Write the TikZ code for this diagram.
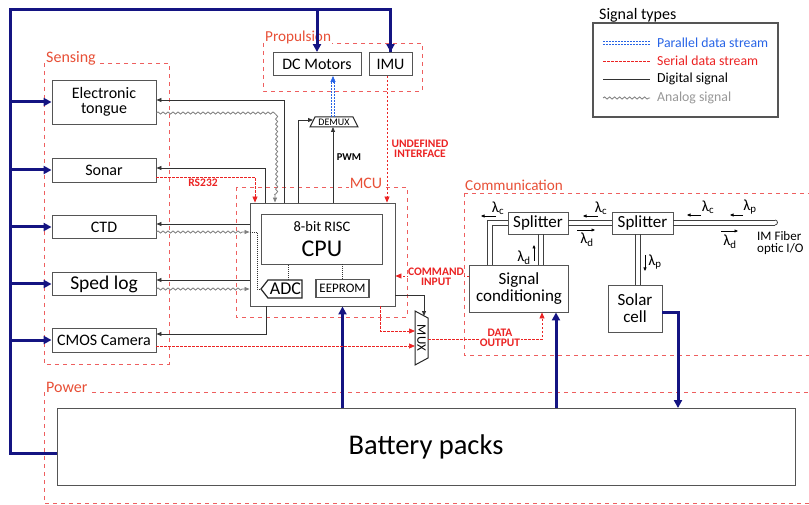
\documentclass[tikz,border=0pt]{standalone}
\usepackage{fontspec}
\setmainfont{Carlito}
\usetikzlibrary{arrows.meta,decorations.pathmorphing,calc}
\definecolor{navy}{RGB}{20,20,130}
\definecolor{serred}{RGB}{235,35,35}
\definecolor{reglab}{RGB}{232,80,55}
\definecolor{regline}{RGB}{238,95,95}
\definecolor{parblue}{RGB}{40,100,230}
\definecolor{digc}{RGB}{50,50,50}
\definecolor{anac}{RGB}{125,125,125}
\definecolor{boxc}{RGB}{85,85,85}
\begin{document}
\begin{tikzpicture}[x=1pt,y=-1pt,
 box/.style={draw=boxc, line width=0.9pt, fill=white, inner sep=1pt, align=center, font=\fontsize{16}{16}\selectfont},
 region/.style={draw=regline, line width=0.7pt, dash pattern=on 4pt off 4pt},
 reglabel/.style={text=reglab, fill=white, inner sep=1pt, font=\fontsize{16}{16}\selectfont},
 pwr/.style={draw=navy, line width=3pt, -{Triangle[length=8pt,width=8pt]}},
 pwrline/.style={draw=navy, line width=3pt},
 digl/.style={draw=digc, line width=0.8pt, -{Triangle[length=5pt,width=4pt]}},
 ser/.style={draw=serred, line width=0.7pt, dash pattern=on 2.5pt off 1.5pt, -{Triangle[length=6pt,width=5pt]}},
 anal/.style={draw=anac, line width=0.8pt, decorate, decoration={snake, amplitude=1.1pt, segment length=5pt, post length=6pt}, -{Triangle[length=5pt,width=4pt]}},
 dots/.style={draw=digc, line width=0.8pt, dash pattern=on 1pt off 1pt},
 parl/.style={draw=parblue, line width=0.7pt, dash pattern=on 2pt off 1pt},
 fib/.style={draw=black!75, line width=0.8pt},
 laml/.style={draw=black, line width=0.6pt, -{Triangle[length=3.5pt,width=3pt]}},
 lamt/.style={inner sep=0pt, font=\fontsize{15.5}{15}\selectfont},
 redlab/.style={text=serred, inner sep=0.5pt, align=center, font=\bfseries\fontsize{11.5}{10}\selectfont},
]
\useasboundingbox (0,0) rectangle (809,505);

% ---------------- regions
\draw[region] (44,63) rectangle (169,364);
\draw[region] (263,43) rectangle (422,91);
\draw[region] (236,187) rectangle (407,317);
\draw[region] (464,193) -- (815,193) (464,193) -- (464,355) -- (815,355);
\draw[region] (44,392) -- (815,392) (44,392) -- (44,503) -- (815,503);
\node[reglabel, anchor=base west] (lsens) at (45,63) {Sensing};
\node[reglabel, anchor=base west, font=\fontsize{15.2}{16}\selectfont] (lprop) at (264,42) {Propulsion};
\node[reglabel, anchor=base] (lmcu) at (366,189) {MCU};
\node[reglabel, anchor=base west, font=\fontsize{15.2}{16}\selectfont] (lcomm) at (464,191) {Communication};
\node[reglabel, anchor=base west] (lpow) at (45,392) {Power};

% ---------------- nodes
\node[box, minimum width=104pt, minimum height=44pt] (et) at (104,102) {Electronic\\[-1pt]tongue};
\node[box, minimum width=104pt, minimum height=24pt] (sonar) at (104,170) {Sonar};
\node[box, minimum width=104pt, minimum height=23pt] (ctd) at (104,227) {CTD};
\node[box, minimum width=104pt, minimum height=23pt, font=\fontsize{19.5}{19}\selectfont] (sped) at (104,284) {Sped log};
\node[box, minimum width=104pt, minimum height=24pt] (cmos) at (104,340) {CMOS Camera};
\node[box, minimum width=88pt, minimum height=23pt] (dcm) at (317,64) {DC Motors};
\node[box, minimum width=43pt, minimum height=23pt] (imu) at (390.5,64) {IMU};

\node[box, minimum width=145pt, minimum height=103pt] (cpuo) at (322.5,254.5) {};
\node[box, minimum width=121pt, minimum height=50pt] (cpui) at (321.5,239) {};
\node[inner sep=0pt, font=\fontsize{14.5}{14}\selectfont] (risc) at (322,227) {8-bit RISC};
\node[inner sep=0pt, font=\fontsize{24}{24}\selectfont] (cpu) at (322,249) {CPU};
\draw[line width=1.2pt, draw=black!85, fill=white] (261,289) -- (268,280) -- (302,280) -- (302,298) -- (268,298) -- cycle;
\node[inner sep=0pt, font=\fontsize{18}{18}\selectfont] (adc) at (285.5,289) {ADC};
\node[box, line width=1.2pt, minimum width=53pt, minimum height=18pt, font=\fontsize{13}{12}\selectfont] (eeprom) at (342.5,288.5) {EEPROM};

\draw[line width=1pt, draw=black!85, fill=white] (310,127) -- (315,117) -- (353,117) -- (358,127) -- cycle;
\node[inner sep=0pt, font=\fontsize{10}{9}\selectfont] (demux) at (334,122) {DEMUX};
\coordinate (demuxW) at (313,120);
\coordinate (demuxS) at (333,127);
\coordinate (demuxN) at (333,117);

\draw[line width=1pt, draw=black!85, fill=white] (415,311) -- (428,318) -- (428,358) -- (415,365) -- cycle;
\node[inner sep=0pt, rotate=-90, font=\fontsize{13}{13}\selectfont] (mux) at (421.5,338) {MUX};
\coordinate (muxN) at (424,316);

\node[box, minimum width=99pt, minimum height=47pt, font=\fontsize{17}{17}\selectfont] (sc) at (519,288.5) {Signal\\conditioning};
\node[box, minimum width=60pt, minimum height=22pt, font=\fontsize{17}{17}\selectfont] (sp1) at (538,223) {Splitter};
\node[box, minimum width=61pt, minimum height=22pt, font=\fontsize{17}{17}\selectfont] (sp2) at (642.5,223) {Splitter};
\node[box, minimum width=54pt, minimum height=47pt, font=\fontsize{17}{17}\selectfont] (solar) at (635,308.5) {Solar\\cell};
\node[box, minimum width=738pt, minimum height=77pt, font=\fontsize{28.5}{28}\selectfont] (battery) at (426,447) {Battery packs};

% ---------------- legend
\node[draw=boxc, line width=1.2pt, minimum width=185pt, minimum height=94pt] (leg) at (685.5,70) {};
\node[anchor=west, inner sep=0pt, font=\fontsize{16}{16}\selectfont] (legt) at (599,15) {Signal types};
\node[anchor=west, inner sep=0pt, text=parblue, font=\fontsize{13.8}{13}\selectfont] (l1) at (657,43) {Parallel data stream};
\node[anchor=west, inner sep=0pt, text=serred, font=\fontsize{13.8}{13}\selectfont] (l2) at (657,61) {Serial data stream};
\node[anchor=west, inner sep=0pt, text=black, font=\fontsize{13.8}{13}\selectfont] (l3) at (657,79) {Digital signal};
\node[anchor=west, inner sep=0pt, text=anac!80, font=\fontsize{13.8}{13}\selectfont] (l4) at (657,98) {Analog signal};
\draw[parl] (603,41.8) -- (650,41.8) (603,44.2) -- (650,44.2);
\draw[draw=serred, line width=0.7pt, dash pattern=on 2.5pt off 1.5pt] (603,61) -- (650,61);
\draw[draw=digc, line width=0.8pt] (603,79) -- (650,79);
\draw[draw=anac, line width=0.8pt, decorate, decoration={snake, amplitude=1.1pt, segment length=5pt}] (603,98) -- (650,98);

% ---------------- power
\draw[pwrline] ([yshift=-6pt]battery.west) -| (10,10) -| (imu.north);
\draw[pwr] (imu.north |- 10,30) -- (imu.north);
\draw[pwr] (dcm.north |- 10,10) -- (dcm.north);
\foreach \n in {et,sonar,ctd,sped,cmos} \draw[pwr] (10,0 |- \n.west) -- (\n.west);
\draw[pwr] (battery.north -| eeprom.south) -- (cpuo.south -| eeprom.south);
\draw[pwr] (battery.north -| 556,0) -- (sc.south -| 556,0);
\draw[pwr] ([yshift=-3.5pt]solar.east) -| (battery.north -| 678,0);

% ---------------- digital
\draw[digl] (cpuo.north -| 284,0) |- ([yshift=2pt]et.east);
\draw[digl] (cpuo.north -| 265,0) |- ([yshift=2pt]sonar.east);
\draw[digl] (cpuo.west |- 0,224) -- (ctd.east |- 0,224);
\draw[digl] (cpuo.west |- 0,280) -- (sped.east |- 0,280);
\draw[digl] (cpuo.south -| 266,0) |- ([yshift=6pt]cmos.east);
\draw[digl] (cpuo.north -| 298,0) |- (demuxW);
\draw[digl] (cpuo.north -| demuxS) -- (demuxS);
\node[inner sep=0pt, font=\bfseries\fontsize{10.5}{10}\selectfont] (pwm) at (349,157) {PWM};
\draw[digl] (cpuo.east |- 0,295) -| (muxN);

% ---------------- analog
\draw[anal] (et.east |- 0,113) -- (275,113) -- (cpuo.north -| 275,0);
\draw[anal] (ctd.east |- 0,232) -- (cpuo.west |- 0,232);
\draw[anal] (sped.east |- 0,289) -- (cpuo.west |- 0,289);
\draw[dots] (cpuo.west |- 0,232) -- (257,232) -- (257,289) -- (261,289);
\draw[dots] (288,280) -- (cpui.south -| 288,0);
\draw[dots] (eeprom.north) -- (cpui.south -| eeprom.north);

% ---------------- serial
\draw[ser] (sonar.east |- 0,177) -- (255,177) -- (cpuo.north -| 255,0);
\node[redlab] (rs) at (203,183) {RS232};
\draw[ser] (imu.south -| 387,0) -- (cpuo.north -| 387,0);
\node[redlab] (undef) at (420,149) {UNDEFINED\\INTERFACE};
\draw[ser] (cpuo.south -| 380,0) |- (415,331);
\draw[ser] (cmos.east |- 0,346) -- (415,346);
\draw[ser] (428,339) -| (sc.south -| 542,0);
\node[redlab, fill=white] (dataout) at (500,338) {DATA\\OUTPUT};
\draw[ser] (sc.west |- 0,276) -- (cpuo.east |- 0,276);
\node[redlab, fill=white] (cmdin) at (436,277) {COMMAND\\INPUT};

% ---------------- parallel
\draw[parl] (331.5,117) -- (331.5,82) (334.5,117) -- (334.5,82);
\draw[draw=parblue, line width=0.7pt, -{Triangle[length=6pt,width=5pt]}] (demuxN |- 0,83) -- (dcm.south -| demuxN);

% ---------------- fiber
\draw[fib] (sp1.west |- 0,220) -- (487,220) -- (sc.north -| 487,0);
\draw[fib] (sp1.west |- 0,225) -- (492,225) -- (sc.north -| 492,0);
\draw[fib] (sp1.east |- 0,220) -- (sp2.west |- 0,220);
\draw[fib] (sp1.east |- 0,225) -- (sp2.west |- 0,225);
\coordinate (fend) at (775,222.5);
\draw[fib] (sp2.east |- 0,220) -- (775,220);
\draw[fib] (sp2.east |- 0,225) -- (775,225);
\draw[fib] (775,220) arc[start angle=90, end angle=-90, radius=2.5pt];
\draw[fib] (sp1.south -| 538,0) -- (sc.north -| 538,0);
\draw[fib] (sp1.south -| 543,0) -- (sc.north -| 543,0);
\draw[fib] (sp2.south -| 635,0) -- (solar.north -| 635,0);
\draw[fib] (sp2.south -| 640,0) -- (solar.north -| 640,0);
\node[anchor=west, inner sep=0pt, align=left, font=\fontsize{13}{12.5}\selectfont] (imfib) at (757,243) {IM Fiber\\optic I/O};

% ---------------- lambdas
\node[lamt] (la1) at (498,208) {λ\textsubscript{c}};
\draw[laml] (496,216) -- (481,216);
\node[lamt] (la2) at (601,208) {λ\textsubscript{c}};
\draw[laml] (598,216) -- (583,216);
\node[lamt] (la3) at (587,240) {λ\textsubscript{d}};
\draw[laml] (577,230) -- (595,230);
\node[lamt] (la4) at (708,207) {λ\textsubscript{c}};
\draw[laml] (701,215) -- (687,215);
\node[lamt] (la5) at (750,207) {λ\textsubscript{p}};
\draw[laml] (743,215) -- (730,215);
\node[lamt] (la6) at (730,242) {λ\textsubscript{d}};
\draw[laml] (721,231) -- (738,231);
\node[lamt] (la7) at (524,258) {λ\textsubscript{d}};
\draw[laml] (534,261) -- (534,245);
\node[lamt] (la8) at (655,262) {λ\textsubscript{p}};
\draw[laml] (645,255) -- (645,271);
\end{tikzpicture}
\end{document}
